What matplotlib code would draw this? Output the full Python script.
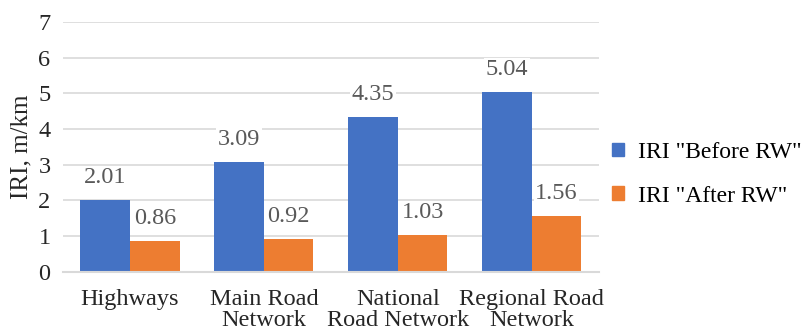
import numpy as np
import matplotlib.pyplot as plt
from matplotlib.patches import Patch

categories = ['Highways', 'Main Road\nNetwork', 'National\nRoad Network', 'Regional Road\nNetwork']
before_rw = [2.01, 3.09, 4.35, 5.04]
after_rw = [0.86, 0.92, 1.03, 1.56]
series_names = ['IRI "Before RW"', 'IRI "After RW"']

blue = '#4472C4'
orange = '#ED7D31'
plt.rcParams['font.family'] = ['Liberation Serif', 'DejaVu Serif']

fig = plt.figure(figsize=(8.03, 3.32), dpi=100)
ax = fig.add_axes([0.0785, 0.181, 0.667, 0.753])

x = np.arange(len(categories))
w = 0.37
b1 = ax.bar(x - w / 2, before_rw, w, color=blue, zorder=2)
b2 = ax.bar(x + w / 2, after_rw, w, color=orange, zorder=2)

for bars, vals in [(b1, before_rw), (b2, after_rw)]:
    for r, v in zip(bars, vals):
        ax.text(r.get_x() + r.get_width() / 2, v + 0.33, f'{v:.2f}',
                ha='center', va='bottom', fontsize=17.5, color='#595959',
                bbox=dict(facecolor='white', edgecolor='none', pad=1), zorder=3)

ax.set_xlim(-0.5, 3.5)
ax.set_ylim(0, 7)
ax.set_yticks(range(8))
ax.yaxis.grid(True, color='#D9D9D9', linewidth=1.2, zorder=0)
ax.set_axisbelow(True)
for s in ['top', 'right', 'left']:
    ax.spines[s].set_visible(False)
ax.spines['bottom'].set_color('#D9D9D9')
ax.spines['bottom'].set_linewidth(1.5)
ax.tick_params(length=0, labelsize=17.5, colors='#262626')
ax.tick_params(axis='y', pad=9)
ax.tick_params(axis='x', pad=12)
ax.set_xticks(x)
ax.set_xticklabels(categories, linespacing=1.05)
ax.set_ylabel('IRI, m/km', fontsize=18, color='#262626', labelpad=4)

handles = [Patch(color=blue), Patch(color=orange)]
fig.legend(handles, series_names, loc='center left', bbox_to_anchor=(0.762, 0.475),
           frameon=False, fontsize=17, handlelength=0.5, handleheight=0.5,
           labelspacing=0.95, handletextpad=0.6, borderpad=0, borderaxespad=0)

fig.savefig('out.png', dpi=100)
